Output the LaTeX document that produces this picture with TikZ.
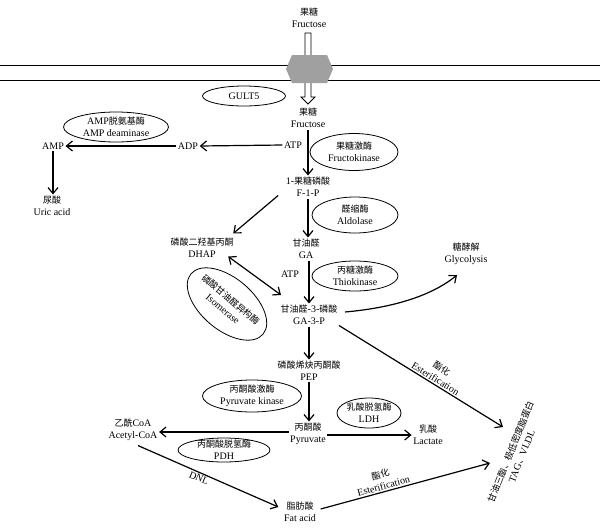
\documentclass[tikz,border=0pt]{standalone}
\usepackage{fontspec}
\setmainfont{Liberation Serif}
\newfontfamily\cjk{Noto Sans CJK SC}
\usetikzlibrary{arrows.meta,calc}
\newcommand\zh[1]{{\cjk\fontsize{9}{12}\selectfont #1}}
\definecolor{hexgray}{RGB}{160,160,160}
\begin{document}
\begin{tikzpicture}[x=1pt,y=-1pt,
  lbl/.style={align=center,inner sep=1.5pt,font=\fontsize{10}{12}\selectfont},
  ell/.style={line width=0.8pt},
  arr/.style={line width=1.2pt,-{Straight Barb[length=6pt,width=10pt,line width=1.2pt]}},
  darr/.style={line width=1.2pt,{Straight Barb[length=6pt,width=10pt,line width=1.2pt]}-{Straight Barb[length=6pt,width=10pt,line width=1.2pt]}},
  memb/.style={line width=0.9pt}
  ]
\useasboundingbox (0,0) rectangle (600,528);
% membrane
\draw[memb] (0,65) -- (600,65);
\draw[memb] (0,80) -- (600,80);
% hollow arrow through channel
\draw[line width=0.8pt,fill=white] (305,33) -- (311,33) -- (311,97) -- (315,97) -- (308,104) -- (301,97) -- (305,97) -- cycle;
% channel hexagon
\fill[hexgray] (286,69) -- (292,55) -- (327,55) -- (333,69) -- (327,83) -- (292,83) -- cycle;

% text nodes
\node[lbl] (fru0) at (309,18) {\zh{果糖}\\Fructose};
\node[lbl] (fru1) at (308,118) {\zh{果糖}\\Fructose};
\node[lbl] (atp1) at (293,145) {ATP};
\node[lbl] (adp) at (188,146) {ADP};
\node[lbl] (amp) at (53,146) {AMP};
\node[lbl] (uric) at (52,206) {\zh{尿酸}\\Uric acid};
\node[lbl] (f1p) at (308,187) {1-\zh{果糖磷酸}\\F-1-P};
\node[lbl] (dhap) at (202,248) {\zh{磷酸二羟基丙酮}\\DHAP};
\node[lbl] (ga) at (306,249) {\zh{甘油醛}\\GA};
\node[lbl] (atp2) at (290,274) {ATP};
\node[lbl] (ga3p) at (309,315) {\zh{甘油醛}-3-\zh{磷酸}\\GA-3-P};
\node[lbl] (glyc) at (466,254) {\zh{糖酵解}\\Glycolysis};
\node[lbl] (pep) at (309,371) {\zh{磷酸烯炔丙酮酸}\\PEP};
\node[lbl] (pyr) at (308,434) {\zh{丙酮酸}\\Pyruvate};
\node[lbl] (acoa) at (133,430) {\zh{乙酰}CoA\\Acetyl-CoA};
\node[lbl] (lac) at (428,435) {\zh{乳酸}\\Lactate};
\node[lbl] (fat) at (300,512) {\zh{脂肪酸}\\Fat acid};
\node[lbl,rotate=68] (tag) at (516,454) {\zh{甘油三酯、极低密度脂蛋白}\\TAG\zh{、}VLDL};
\coordinate (tag1) at (503,427);
\coordinate (tag2) at (490,463);

% enzymes
\node[lbl] (gult) at (244,96) {GULT5};
\draw[ell] (gult.center) ellipse [x radius=41.5, y radius=10];
\node[lbl] (ampd) at (116,127) {AMP\zh{脱氨基酶}\\AMP deaminase};
\draw[ell] (ampd.center) ellipse [x radius=52.5, y radius=15];
\node[lbl] (fk) at (354,152) {\zh{果糖激酶}\\Fructokinase};
\draw[ell] (fk.center) ellipse [x radius=44, y radius=18.5];
\node[lbl] (ald) at (355,215) {\zh{醛缩酶}\\Aldolase};
\draw[ell] (ald.center) ellipse [x radius=43, y radius=18];
\node[lbl] (thio) at (355,276) {\zh{丙糖激酶}\\Thiokinase};
\draw[ell] (thio.center) ellipse [x radius=43, y radius=15];
\node[lbl,rotate=-40] (iso) at (227,304) {\zh{磷酸甘油醛异构酶}\\Isomerase};
\draw[ell,rotate around={-40:(iso.center)}] (iso.center) ellipse [x radius=47, y radius=26];
\node[lbl] (pk) at (252,396) {\zh{丙酮酸激酶}\\Pyruvate kinase};
\draw[ell] (pk.center) ellipse [x radius=49.5, y radius=16];
\node[lbl] (pdh) at (224,450) {\zh{丙酮酸脱氢酶}\\PDH};
\draw[ell] (pdh.center) ellipse [x radius=46, y radius=12];
\node[lbl] (ldh) at (369,413) {\zh{乳酸脱氢酶}\\LDH};
\draw[ell] (ldh.center) ellipse [x radius=32, y radius=15];

% connectors
\draw[arr] (fru1.south) -- (fru1.south |- f1p.north);
\draw[arr] (atp1.west) -- (adp.east);
\draw[arr] (adp.west) -- (amp.east);
\draw[arr] (amp.south) -- (amp.south |- uric.north);
\draw[arr] (f1p.south) -- (f1p.south |- ga.north);
\draw[arr] ($(f1p.south west)+(-6,-3)$) -- ($(dhap.north east)+(-2,-3)$);
\draw[arr] (ga.south -| ga3p.north) -- (ga3p.north);
\draw[darr] ($(dhap.south east)+(-7,-3)$) -- ($(ga3p.north west)+(2,-8.5)$);
\draw[arr] ($(ga3p.east)+(6,-3)$) .. controls (390,308) and (430,297) .. ($(glyc.south)+(-9,8.5)$);
\draw[arr] ($(ga3p.south east)+(0,-1)$) -- (tag1)
  node[lbl,pos=0.57,above,sloped] (est1) {\zh{酯化}\\Esterification};
\draw[arr] (ga3p.south) -- (ga3p.south |- pep.north);
\draw[arr] (pep.south) -- (pep.south |- pyr.north);
\draw[arr] ([yshift=2pt]pyr.west) -- ([yshift=2pt]pyr.west -| acoa.east);
\draw[arr] ([yshift=-1pt]pyr.east) -- ([yshift=-1pt]pyr.east -| lac.west);
\draw[arr] ($(acoa.south)+(5,3)$) -- ($(fat.west)+(-4,-5)$)
  node[lbl,pos=0.45,below,sloped] (dnl) {DNL};
\draw[arr] ($(fat.east)+(3,-3)$) -- (tag2)
  node[lbl,pos=0.38,above,sloped] (est2) {\zh{酯化}\\Esterification};
\end{tikzpicture}
\end{document}
